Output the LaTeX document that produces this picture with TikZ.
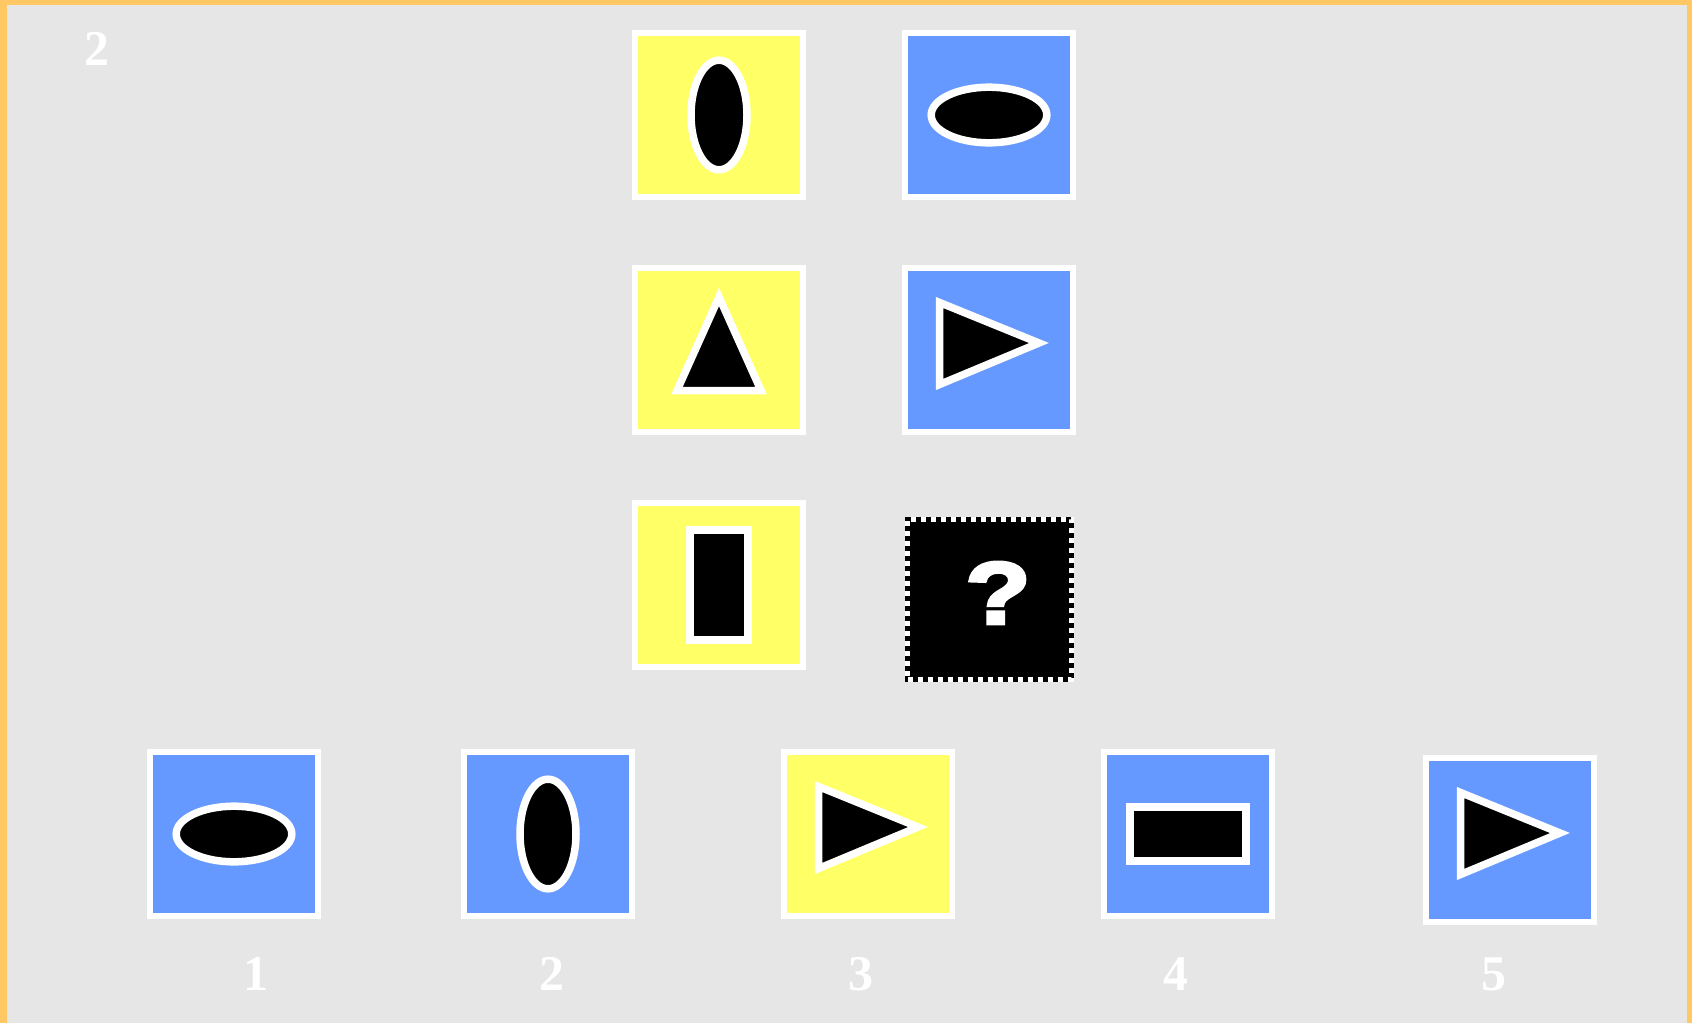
\documentclass[tikz,border=0pt]{standalone}
\usepackage{fontspec}
\setmainfont{Liberation Serif}
\newfontfamily\qfont[BoldFeatures={FakeBold=4,FakeStretch=1.22}]{Liberation Sans}
\usetikzlibrary{positioning}
\definecolor{Frame}{HTML}{FFC864}
\definecolor{Paper}{HTML}{E6E6E6}
\definecolor{Lemon}{HTML}{FFFF66}
\definecolor{Sky}{HTML}{6699FF}

\begin{document}
\begin{tikzpicture}[
    x=0.5pt, y=-0.5pt,
    tile/.style={
        draw=white, line width=3pt, minimum width=84pt, minimum height=82pt,
        inner sep=0pt
    },
    yel/.style={tile, fill=Lemon},
    blu/.style={tile, fill=Sky},
    ask/.style={
        fill=black, draw=black, line width=2.5pt, minimum width=82pt, minimum height=80pt,
        inner sep=0pt, postaction={draw=white, dash pattern=on 2.5pt off 2.5pt}
    },
    fig/.style={fill=black, draw=white, line width=3.75pt, line join=miter},
    num/.style={text=white, font=\fontsize{25}{25}\selectfont\bfseries, inner sep=0pt},
    ovalv/.pic={\draw[fig] (0,0) ellipse [x radius=14pt, y radius=27.4pt];},
    ovalh/.pic={\draw[fig] (0,0) ellipse [x radius=28.9pt, y radius=13.9pt];},
    triup/.pic={\draw[fig] (0,-53) -- (42,40.5) -- (-42,40.5) -- cycle;},
    triright/.pic={\draw[fig] (-49.5,-47.5) -- (50,-7) -- (-49.5,34.5) -- cycle;},
    barv/.pic={\draw[fig] (-29,-55) rectangle (29,55);},
    barh/.pic={\draw[fig] (-58,-27) rectangle (58,27);}
]

% =============================================
% PAPER
% =============================================
\useasboundingbox (0,0) rectangle (1692,1023);
\fill[Frame] (0,0) rectangle (1692,1023);
\fill[Paper] (7,5) rectangle (1687,1023);

\node[num] (qno) at (97,49) {2};

% =============================================
% MATRIX: 3 ROWS x 2 COLUMNS
% =============================================
\node[yel] (r1a) at (719,115) {};
\node[blu, right=48pt of r1a] (r1b) {};
\node[yel, below=32.5pt of r1a] (r2a) {};
\node[blu, below=32.5pt of r1b] (r2b) {};
\node[yel, below=32.5pt of r2a] (r3a) {};
\node[ask] (r3b) at (989.5,599) {};
\node[text=white, font=\qfont\fontsize{44}{44}\selectfont\bfseries, inner sep=0pt]
    (qmark) at (998,593) {?};

\pic at (r1a) {ovalv};
\pic at (r1b) {ovalh};
\pic at (r2a) {triup};
\pic at (r2b) {triright};
\pic at (r3a) {barv};

% =============================================
% ANSWERS
% =============================================
\node[blu] (ans1) at (234,834) {};
\node[blu] (ans2) at (548,834) {};
\node[yel] (ans3) at (868,834) {};
\node[blu] (ans4) at (1188,834) {};
\node[blu] (ans5) at (1510,840) {};

\pic at (ans1) {ovalh};
\pic at (ans2) {ovalv};
\pic at (ans3) {triright};
\pic at (ans4) {barh};
\pic at (ans5) {triright};

\node[num] (no1) at (256,974) {1};
\node[num] (no2) at (552,974) {2};
\node[num] (no3) at (861,974) {3};
\node[num] (no4) at (1176,974) {4};
\node[num] (no5) at (1494,974) {5};

\end{tikzpicture}
\end{document}
